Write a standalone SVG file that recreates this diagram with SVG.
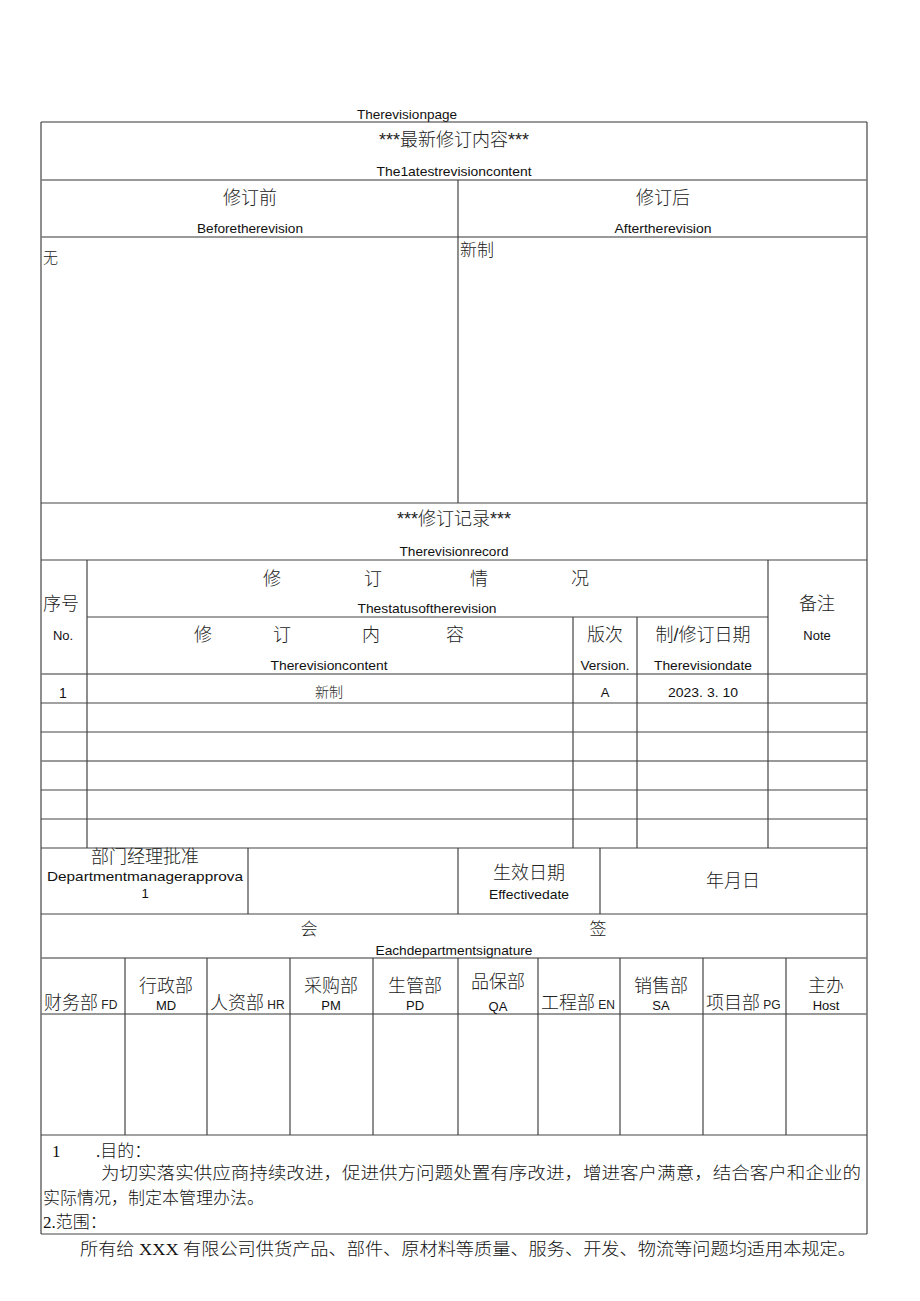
<svg xmlns="http://www.w3.org/2000/svg" width="920" height="1301" viewBox="0 0 920 1301">
<style>
.ln{stroke:#444;stroke-width:1.2;fill:none}
.lg{stroke:#777;stroke-width:1.5;fill:none}
.en{font-family:"Liberation Sans",Arial,sans-serif;font-size:13px;fill:#111;text-anchor:middle}
.enl{font-family:"Liberation Sans",Arial,sans-serif;font-size:13px;fill:#111}
.cn{font-family:"Liberation Sans","Noto Sans CJK SC",sans-serif;font-size:18px;fill:#222;text-anchor:middle;font-weight:300}
.cnl{font-family:"Liberation Sans","Noto Sans CJK SC",sans-serif;font-size:18px;fill:#222;font-weight:300}
.body{font-family:"Liberation Serif","Noto Sans CJK SC",serif;font-size:17px;fill:#111;font-weight:300}
</style>
<rect width="920" height="1301" fill="#fff"/>
<g id="connectors">
  <!-- outer frame -->
  <line class="lg" x1="41" y1="122" x2="867" y2="122"/>
  <line class="ln" x1="41" y1="122" x2="41" y2="1234"/>
  <line class="ln" x1="867" y1="122" x2="867" y2="1234"/>
  <line class="lg" x1="41" y1="180" x2="867" y2="180"/>
  <line class="lg" x1="41" y1="237" x2="867" y2="237"/>
  <line class="ln" x1="458" y1="180" x2="458" y2="503"/>
  <line class="ln" x1="41" y1="503" x2="867" y2="503"/>
  <line class="ln" x1="41" y1="560" x2="867" y2="560"/>
  <line class="ln" x1="87" y1="617" x2="768" y2="617"/>
  <line class="lg" x1="41" y1="674" x2="867" y2="674"/>
  <line class="ln" x1="41" y1="703" x2="867" y2="703"/>
  <line class="ln" x1="41" y1="732" x2="867" y2="732"/>
  <line class="lg" x1="41" y1="761" x2="867" y2="761"/>
  <line class="ln" x1="41" y1="790" x2="867" y2="790"/>
  <line class="ln" x1="41" y1="819" x2="867" y2="819"/>
  <line class="ln" x1="41" y1="848" x2="867" y2="848"/>
  <line class="ln" x1="87" y1="560" x2="87" y2="848"/>
  <line class="ln" x1="768" y1="560" x2="768" y2="848"/>
  <line class="ln" x1="573" y1="617" x2="573" y2="848"/>
  <line class="ln" x1="637" y1="617" x2="637" y2="848"/>
  <line class="ln" x1="41" y1="914" x2="867" y2="914"/>
  <line class="ln" x1="248" y1="848" x2="248" y2="914"/>
  <line class="ln" x1="458" y1="848" x2="458" y2="914"/>
  <line class="ln" x1="600" y1="848" x2="600" y2="914"/>
  <line class="lg" x1="41" y1="958" x2="867" y2="958"/>
  <line class="lg" x1="41" y1="1014" x2="867" y2="1014"/>
  <line class="ln" x1="125" y1="958" x2="125" y2="1135"/>
  <line class="ln" x1="207" y1="958" x2="207" y2="1135"/>
  <line class="ln" x1="290" y1="958" x2="290" y2="1135"/>
  <line class="ln" x1="373" y1="958" x2="373" y2="1135"/>
  <line class="ln" x1="458" y1="958" x2="458" y2="1135"/>
  <line class="ln" x1="538" y1="958" x2="538" y2="1135"/>
  <line class="ln" x1="620" y1="958" x2="620" y2="1135"/>
  <line class="ln" x1="703" y1="958" x2="703" y2="1135"/>
  <line class="ln" x1="786" y1="958" x2="786" y2="1135"/>
  <line class="ln" x1="41" y1="1135" x2="867" y2="1135"/>
  <line class="ln" x1="41" y1="1234" x2="867" y2="1234"/>
</g>
<g id="title">
  <text class="en" x="407" y="119" textLength="100" lengthAdjust="spacingAndGlyphs">Therevisionpage</text>
</g>
<g id="latest-header">
  <text class="cn" x="454" y="146">***最新修订内容***</text>
  <text class="en" x="454" y="176" textLength="155" lengthAdjust="spacingAndGlyphs">The1atestrevisioncontent</text>
</g>
<g id="before-header">
  <text class="cn" x="250" y="204">修订前</text>
  <text class="en" x="250" y="233" textLength="106" lengthAdjust="spacingAndGlyphs">Beforetherevision</text>
</g>
<g id="after-header">
  <text class="cn" x="663" y="204">修订后</text>
  <text class="en" x="663" y="233" textLength="97" lengthAdjust="spacingAndGlyphs">Aftertherevision</text>
</g>
<g id="before-content">
  <text class="cnl" x="43" y="263" style="font-size:15px">无</text>
</g>
<g id="after-content">
  <text class="cnl" x="460" y="256" style="font-size:17px">新制</text>
</g>
<g id="record-header">
  <text class="cn" x="454" y="525">***修订记录***</text>
  <text class="en" x="454" y="556" textLength="109" lengthAdjust="spacingAndGlyphs">Therevisionrecord</text>
</g>
<g id="no-header">
  <text class="cn" x="61" y="610">序号</text>
  <text class="en" x="63" y="640">No.</text>
</g>
<g id="status-header">
  <text class="cn" x="272" y="585">修</text>
  <text class="cn" x="373" y="585">订</text>
  <text class="cn" x="479" y="585">情</text>
  <text class="cn" x="580" y="585">况</text>
  <text class="en" x="427" y="613" textLength="139" lengthAdjust="spacingAndGlyphs">Thestatusoftherevision</text>
</g>
<g id="note-header">
  <text class="cn" x="817" y="610">备注</text>
  <text class="en" x="817" y="640">Note</text>
</g>
<g id="content-header">
  <text class="cn" x="203" y="641">修</text>
  <text class="cn" x="282" y="641">订</text>
  <text class="cn" x="371" y="641">内</text>
  <text class="cn" x="455" y="641">容</text>
  <text class="en" x="329" y="670" textLength="117" lengthAdjust="spacingAndGlyphs">Therevisioncontent</text>
</g>
<g id="version-header">
  <text class="cn" x="605" y="641">版次</text>
  <text class="en" x="605" y="670" textLength="49" lengthAdjust="spacingAndGlyphs">Version.</text>
</g>
<g id="date-header">
  <text class="cn" x="703" y="641">制/修订日期</text>
  <text class="en" x="703" y="670" textLength="98" lengthAdjust="spacingAndGlyphs">Therevisiondate</text>
</g>
<g id="row-1">
  <text class="en" x="63" y="698" style="font-size:14px">1</text>
  <text class="cn" x="329" y="697" style="font-size:14px">新制</text>
  <text class="en" x="605" y="697">A</text>
  <text class="en" x="703" y="697" textLength="70" lengthAdjust="spacingAndGlyphs" style="font-family:'Liberation Sans Narrow','Liberation Sans',sans-serif">2023. 3. 10</text>
</g>
<g id="approval">
  <text class="cn" x="145" y="863">部门经理批准</text>
  <text class="en" x="145" y="881" textLength="196" lengthAdjust="spacingAndGlyphs">Departmentmanagerapprova</text>
  <text class="en" x="145" y="898">1</text>
</g>
<g id="effective-date">
  <text class="cn" x="529" y="879">生效日期</text>
  <text class="en" x="529" y="899" textLength="80" lengthAdjust="spacingAndGlyphs">Effectivedate</text>
</g>
<g id="date-value">
  <text class="cn" x="733" y="887">年月日</text>
</g>
<g id="signature-header">
  <text class="cn" x="309" y="935" style="font-size:17px">会</text>
  <text class="cn" x="598" y="935" style="font-size:17px">签</text>
  <text class="en" x="454" y="955" textLength="157" lengthAdjust="spacingAndGlyphs">Eachdepartmentsignature</text>
</g>
<g id="dept-fd">
  <text class="cnl" x="44" y="1009">财务部<tspan style="font-family:'Liberation Sans',sans-serif;font-size:12px"> FD</tspan></text>
</g>
<g id="dept-md">
  <text class="cn" x="166" y="992">行政部</text>
  <text class="en" x="166" y="1010">MD</text>
</g>
<g id="dept-hr">
  <text class="cnl" x="210" y="1009">人资部<tspan style="font-family:'Liberation Sans',sans-serif;font-size:12px"> HR</tspan></text>
</g>
<g id="dept-pm">
  <text class="cn" x="331" y="992">采购部</text>
  <text class="en" x="331" y="1010">PM</text>
</g>
<g id="dept-pd">
  <text class="cn" x="415" y="992">生管部</text>
  <text class="en" x="415" y="1010">PD</text>
</g>
<g id="dept-qa">
  <text class="cn" x="498" y="988">品保部</text>
  <text class="en" x="498" y="1011">QA</text>
</g>
<g id="dept-en">
  <text class="cnl" x="541" y="1009">工程部<tspan style="font-family:'Liberation Sans',sans-serif;font-size:12px"> EN</tspan></text>
</g>
<g id="dept-sa">
  <text class="cn" x="661" y="992">销售部</text>
  <text class="en" x="661" y="1010">SA</text>
</g>
<g id="dept-pg">
  <text class="cnl" x="706" y="1009">项目部<tspan style="font-family:'Liberation Sans',sans-serif;font-size:12px"> PG</tspan></text>
</g>
<g id="dept-host">
  <text class="cn" x="826" y="992">主办</text>
  <text class="en" x="826" y="1010">Host</text>
</g>
<g id="purpose">
  <text class="body" x="52" y="1157">1</text>
  <text class="body" x="96" y="1157">.目的：</text>
  <text class="body" x="101" y="1179" textLength="760" lengthAdjust="spacingAndGlyphs">为切实落实供应商持续改进，促进供方问题处置有序改进，增进客户满意，结合客户和企业的</text>
  <text class="body" x="43" y="1204">实际情况，制定本管理办法。</text>
  <text class="body" x="43" y="1228">2.范围：</text>
</g>
<g id="scope">
  <text class="body" x="80" y="1255" textLength="776" lengthAdjust="spacingAndGlyphs">所有给 XXX 有限公司供货产品、部件、原材料等质量、服务、开发、物流等问题均适用本规定。</text>
</g>
</svg>
